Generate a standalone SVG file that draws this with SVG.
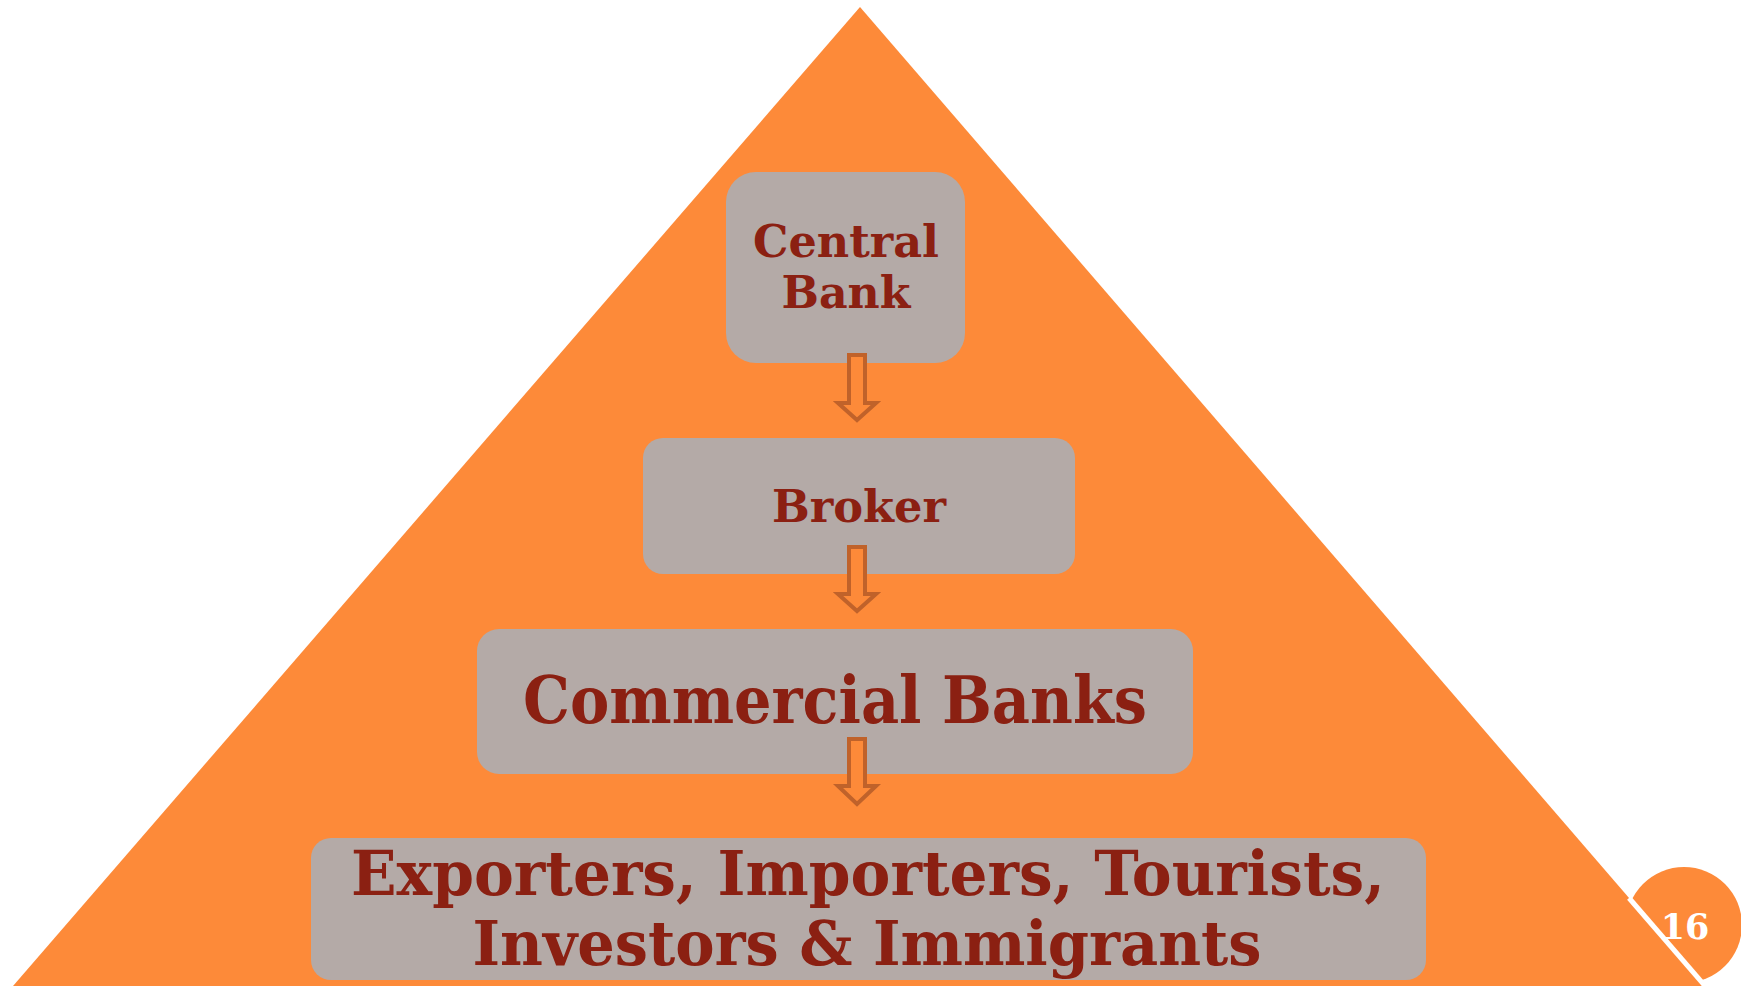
<svg xmlns="http://www.w3.org/2000/svg" width="1741" height="986" viewBox="0 0 1741 986">
<style>
.box{fill:#b4aaa7}
.lbl{font-family:"DejaVu Serif","Liberation Serif",serif;font-weight:bold;fill:#8b2012;text-anchor:middle}
.arr{fill:#fd8a39;stroke:#c0622a;stroke-width:4;stroke-linejoin:miter}
</style>
<rect width="1741" height="986" fill="#ffffff"/>
<circle cx="1684" cy="925" r="58" fill="#fd8a39"/>
<polygon points="860,7 1705,986 13,986" fill="#fd8a39"/>
<line x1="1629" y1="898" x2="1712" y2="994" stroke="#ffffff" stroke-width="5"/>
<text x="1685" y="939" class="lbl" style="fill:#ffffff;font-size:35px">16</text>
<g id="central-bank">
<rect class="box" x="726" y="172" width="239" height="191" rx="30"/>
<text class="lbl" x="846" y="257" style="font-size:44px" textLength="186" lengthAdjust="spacingAndGlyphs">Central</text>
<text class="lbl" x="846" y="308" style="font-size:44px" textLength="129" lengthAdjust="spacingAndGlyphs">Bank</text>
</g>
<g id="broker">
<rect class="box" x="643" y="438" width="432" height="136" rx="20"/>
<text class="lbl" x="859" y="522" style="font-size:44px" textLength="174" lengthAdjust="spacingAndGlyphs">Broker</text>
</g>
<g id="commercial-banks">
<rect class="box" x="477" y="629" width="716" height="145" rx="22"/>
<text class="lbl" x="835" y="723" style="font-size:65px" textLength="624" lengthAdjust="spacingAndGlyphs">Commercial Banks</text>
</g>
<g id="end-users">
<rect class="box" x="311" y="838" width="1115" height="142" rx="20"/>
<text class="lbl" x="868" y="895" style="font-size:62px" textLength="1034" lengthAdjust="spacingAndGlyphs">Exporters, Importers, Tourists,</text>
<text class="lbl" x="867" y="965" style="font-size:62px" textLength="789" lengthAdjust="spacingAndGlyphs">Investors &amp; Immigrants</text>
</g>
<g id="connectors">
<path class="arr" d="M849,355 H865 V403 H876 L857,420 L838,403 H849 Z"/>
<path class="arr" d="M849,547 H865 V594 H876 L857,611 L838,594 H849 Z"/>
<path class="arr" d="M849,739 H865 V786 H876 L857,804 L838,786 H849 Z"/>
</g>
</svg>
